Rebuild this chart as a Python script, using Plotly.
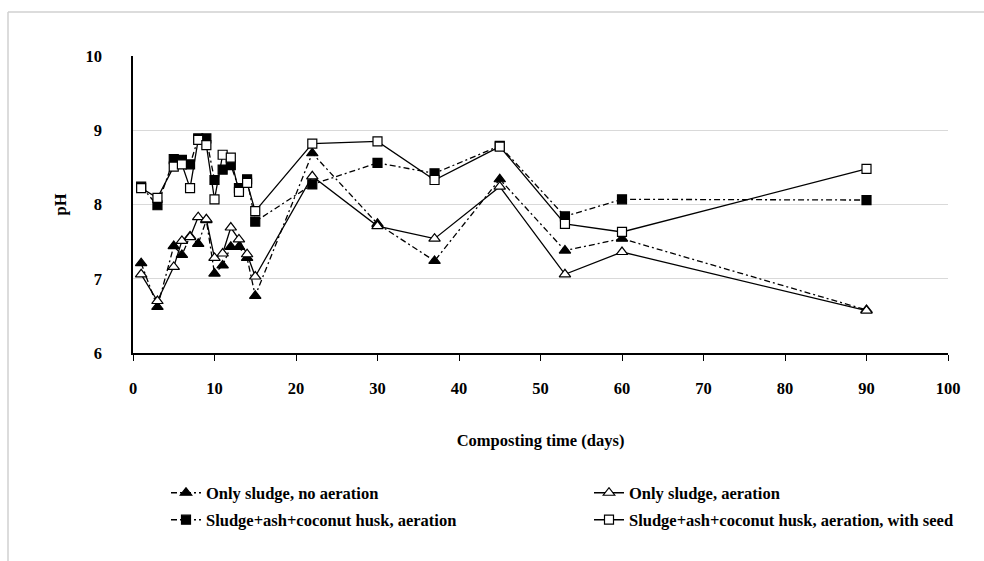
import plotly.graph_objects as go

days = [1, 3, 5, 6, 7, 8, 9, 10, 11, 12, 13, 14, 15, 22, 30, 37, 45, 53, 60, 90]

ph_sludge_no_aer = [7.21, 6.62, 7.44, 7.32, 7.57, 7.47, 7.79, 7.07, 7.18, 7.43, 7.43, 7.28, 6.77,
                    8.69, 7.74, 7.24, 8.34, 7.38, 7.54, 6.58]
ph_sludge_aer = [7.06, 6.70, 7.16, 7.51, 7.56, 7.83, 7.80, 7.28, 7.34, 7.69, 7.53, 7.33, 7.03,
                 8.38, 7.71, 7.54, 8.24, 7.06, 7.36, 6.57]
ph_mix_aer = [8.24, 7.99, 8.61, 8.60, 8.54, 8.89, 8.89, 8.33, 8.47, 8.53, 8.22, 8.34, 7.77,
              8.27, 8.56, 8.42, 8.79, 7.84, 8.07, 8.06]
ph_mix_aer_seed = [8.22, 8.09, 8.51, 8.54, 8.22, 8.87, 8.80, 8.07, 8.67, 8.63, 8.17, 8.29, 7.91,
                   8.82, 8.85, 8.33, 8.78, 7.74, 7.63, 8.48]

names = ["Only sludge, no aeration", "Only sludge, aeration",
         "Sludge+ash+coconut husk, aeration", "Sludge+ash+coconut husk, aeration, with seed"]

FONT = "Liberation Serif"
FS = 16.5
DASHDOT = "6px,3px,2px,3px"

series = [
    (ph_sludge_no_aer, names[0], "triangle-up", "black", DASHDOT, "legend"),
    (ph_sludge_aer, names[1], "triangle-up", "white", "solid", "legend2"),
    (ph_mix_aer, names[2], "square", "black", DASHDOT, "legend3"),
    (ph_mix_aer_seed, names[3], "square", "white", "solid", "legend4"),
]

fig = go.Figure()
for vals, name, sym, fill, dash, lg in series:
    fig.add_trace(go.Scatter(
        x=days, y=vals, name=name, mode="lines+markers",
        line=dict(color="black", width=1.3, dash=dash),
        marker=dict(symbol=sym, size=9 if sym == "square" else 10, color=fill,
                    line=dict(color="black", width=1.2)),
        legend=lg, showlegend=True,
    ))

# pixel helpers for layout placement
L, R, T, B = 133, 948, 56, 353
def px(x):
    return (x - L) / (R - L)
def py(y):
    return (B - y) / (B - T)

legend_font = dict(family=FONT, size=FS, color="black", weight="bold")
def leg(x, y):
    return dict(x=px(x), y=py(y), xanchor="left", yanchor="middle",
                bgcolor="rgba(0,0,0,0)", font=legend_font, itemwidth=30)

fig.update_layout(
    width=984, height=561,
    margin=dict(l=L, r=984 - R, t=T, b=561 - B),
    paper_bgcolor="white", plot_bgcolor="white",
    font=dict(family=FONT, size=FS, color="black"),
    showlegend=True,
    xaxis=dict(
        range=[0, 100], dtick=10, tick0=0,
        showgrid=False, zeroline=False,
        showline=True, linecolor="black", linewidth=1.5,
        ticks="outside", ticklen=6, tickcolor="black", tickwidth=1,
        tickfont=dict(family=FONT, size=FS, color="black", weight="bold"),
        ticklabelstandoff=13,
        title=dict(text="<b>Composting time (days)</b>", standoff=38,
                   font=dict(family=FONT, size=FS, color="black")),
    ),
    yaxis=dict(
        range=[6, 10], dtick=1,
        showgrid=True, gridcolor="#d9d9d9", gridwidth=1,
        zeroline=False,
        showline=True, linecolor="black", linewidth=1.5,
        ticks="",
        tickfont=dict(family=FONT, size=FS, color="black", weight="bold"),
        ticklabelstandoff=26,
        title=dict(text="<b>pH</b>", standoff=15,
                   font=dict(family=FONT, size=FS, color="black")),
    ),
    legend=leg(166, 493),
    legend2=leg(589, 493),
    legend3=leg(166, 520),
    legend4=leg(589, 520),
    shapes=[
        dict(type="line", xref="paper", yref="paper", x0=px(8), x1=px(990), y0=py(12), y1=py(12),
             line=dict(color="#d0d0d0", width=1.5)),
        dict(type="line", xref="paper", yref="paper", x0=px(8), x1=px(8), y0=py(12), y1=py(570),
             line=dict(color="#d0d0d0", width=1.5)),
    ],
)

fig.write_html("out.html")
